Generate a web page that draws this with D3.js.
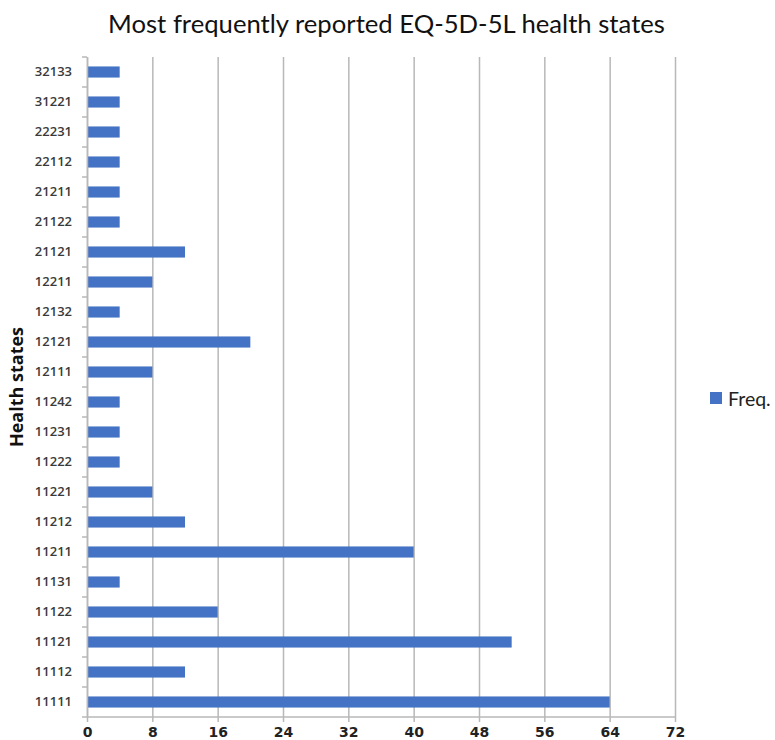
<!DOCTYPE html>
<html>
<head>
<meta charset="utf-8">
<script src="https://cdn.jsdelivr.net/npm/d3@7"></script>
<style>
  html, body { margin: 0; padding: 0; background: #fff; overflow: hidden; }
  svg { display: block; }
</style>
</head>
<body>
<svg id="chart" width="775" height="740"></svg>
<script>
// Health states, listed top to bottom
const states = ["32133","31221","22231","22112","21211","21122","21121","12211","12132","12121",
                "12111","11242","11231","11222","11221","11212","11211","11131","11122","11121",
                "11112","11111"];
// Reported frequency per health state
const freq = [4,4,4,4,4,4,12,8,4,20,8,4,4,4,8,12,40,4,16,52,12,64];
const xTicks = [0,8,16,24,32,40,48,56,64,72];

const titleText = "Most frequently reported EQ-5D-5L health states";
const yTitle = "Health states";
const seriesName = "Freq.";

const svg = d3.select("#chart");
const plotL = 87, plotR = 675, plotT = 57, plotB = 717;
const barColor = "#4472C4";
const gridColor = "#b8b8b8";

const x = d3.scaleLinear().domain([0, 72]).range([plotL, plotR]);
const yBand = d3.scaleBand().domain(states).range([plotT, plotB]);
const y = d3.scaleBand().domain(states).range([plotT, plotB]).paddingInner(0.63).paddingOuter(0.315);

// vertical gridlines + bottom ticks + x labels
const xAxis = svg.append("g")
  .attr("transform", `translate(0,${plotB})`)
  .call(d3.axisBottom(x).tickValues(xTicks).tickSizeOuter(0).tickPadding(4));
xAxis.select(".domain").remove();
xAxis.selectAll(".tick line")
  .attr("y1", 5)
  .attr("y2", -(plotB - plotT))
  .attr("stroke", gridColor).attr("stroke-width", 1.5);
xAxis.selectAll(".tick text")
  .attr("font-family", "DejaVu Sans, sans-serif")
  .attr("font-weight", "bold")
  .attr("font-size", 14)
  .attr("fill", "#222");

// bars
svg.append("g").selectAll("rect").data(states).join("rect")
  .attr("x", x(0))
  .attr("y", d => y(d))
  .attr("width", (d, i) => x(freq[i]) - x(0))
  .attr("height", y.bandwidth())
  .attr("fill", barColor);

// x axis baseline
svg.append("line").attr("x1", plotL).attr("x2", plotR).attr("y1", plotB).attr("y2", plotB)
  .attr("stroke", gridColor).attr("stroke-width", 1.5);

// y axis: labels from the band scale, tick marks at band boundaries
const yAxis = svg.append("g")
  .attr("transform", `translate(${plotL},0)`)
  .call(d3.axisLeft(yBand).tickSize(0).tickPadding(15));
yAxis.select(".domain").attr("stroke", gridColor).attr("stroke-width", 1.5);
yAxis.selectAll(".tick text")
  .attr("font-family", "'Open Sans', sans-serif")
  .attr("font-weight", 600)
  .attr("font-size", 13)
  .attr("fill", "#3a3a3a");
yAxis.selectAll(".bound").data(d3.range(states.length + 1)).join("line")
  .attr("class", "bound")
  .attr("x1", -5).attr("x2", 0)
  .attr("y1", i => plotT + i * yBand.step())
  .attr("y2", i => plotT + i * yBand.step())
  .attr("stroke", gridColor).attr("stroke-width", 1.5);

// title
const t = svg.append("text")
  .attr("x", 386.5).attr("y", 33)
  .attr("text-anchor", "middle")
  .attr("font-family", "Lato, 'Open Sans', sans-serif")
  .attr("font-size", 25)
  .attr("fill", "#111")
  .text(titleText);
const tw = t.node().getComputedTextLength();
t.attr("font-size", 25 * 557 / tw);

// y axis title
svg.append("text")
  .attr("transform", `translate(23,${(plotT + plotB) / 2}) rotate(-90)`)
  .attr("text-anchor", "middle")
  .attr("font-family", "'Open Sans', sans-serif")
  .attr("font-weight", "bold")
  .attr("font-size", 18)
  .attr("fill", "#111")
  .text(yTitle);

// legend
svg.append("rect").attr("x", 710).attr("y", 392).attr("width", 12).attr("height", 12).attr("fill", barColor);
svg.append("text").attr("x", 728).attr("y", 406)
  .attr("font-family", "Lato, 'Open Sans', sans-serif")
  .attr("font-size", 19.5)
  .attr("fill", "#222")
  .text(seriesName);
</script>
</body>
</html>
